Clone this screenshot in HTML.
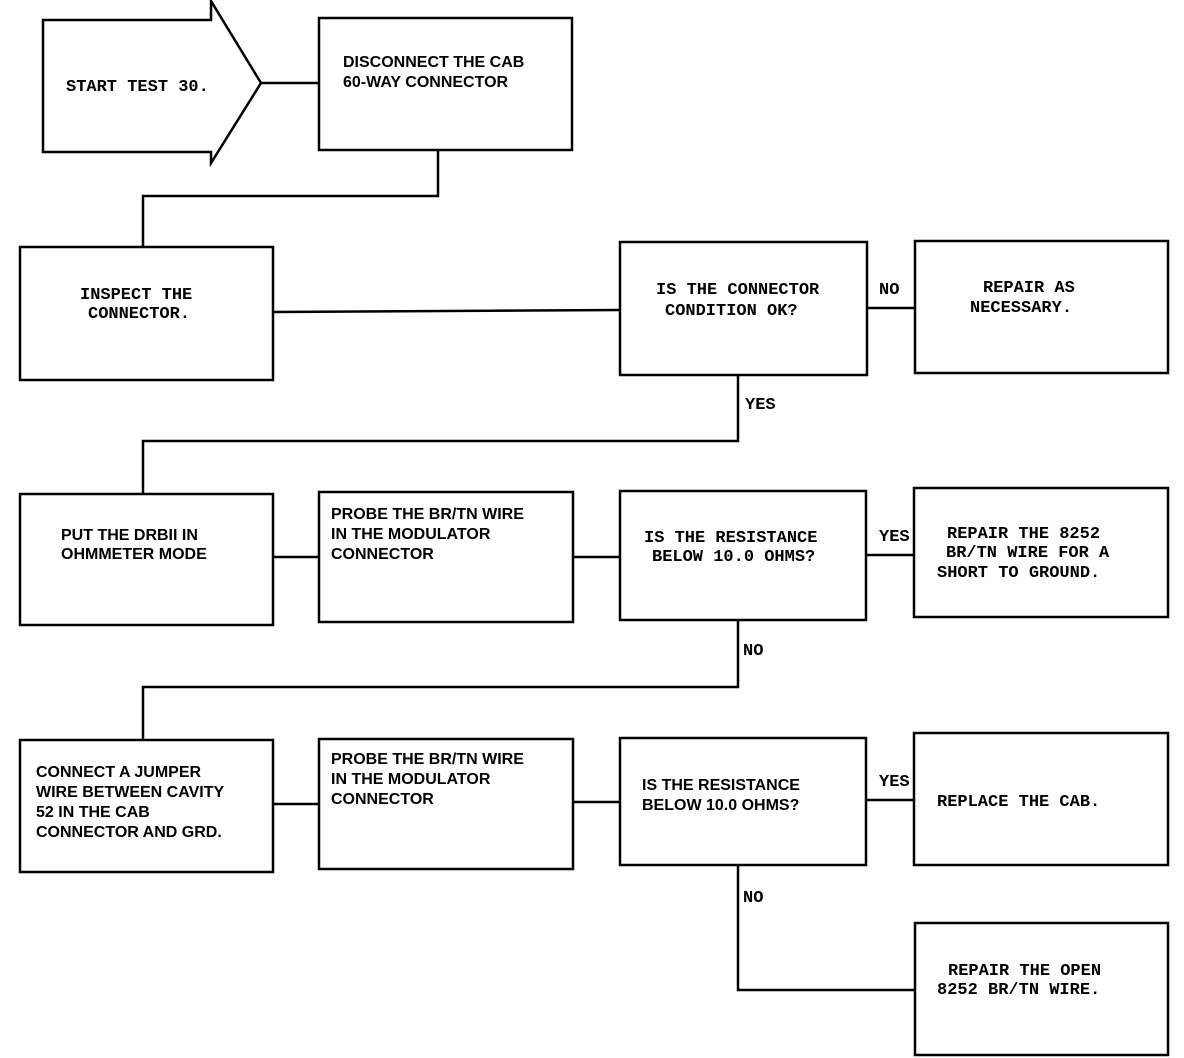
<!DOCTYPE html>
<html><head><meta charset="utf-8"><style>
html,body{margin:0;padding:0;background:#fff;}
svg{display:block}
.b{font-family:"Liberation Sans",sans-serif;font-weight:bold;font-size:16px;}
.m{font-family:"Liberation Mono",monospace;font-weight:bold;font-size:17px;}
</style></head><body>
<svg width="1184" height="1058" viewBox="0 0 1184 1058" xmlns="http://www.w3.org/2000/svg">
<g fill="none" stroke="#000" stroke-width="2.5">
<polygon points="43,20 211,20 211,1 261,83 211,163 211,152 43,152"/>
<rect x="319" y="18" width="253" height="132"/>
<rect x="20" y="247" width="253" height="133"/>
<rect x="620" y="242" width="247" height="133"/>
<rect x="915" y="241" width="253" height="132"/>
<rect x="20" y="494" width="253" height="131"/>
<rect x="319" y="492" width="254" height="130"/>
<rect x="620" y="491" width="246" height="129"/>
<rect x="914" y="488" width="254" height="129"/>
<rect x="20" y="740" width="253" height="132"/>
<rect x="319" y="739" width="254" height="130"/>
<rect x="620" y="738" width="246" height="127"/>
<rect x="914" y="733" width="254" height="132"/>
<rect x="915" y="923" width="253" height="132"/>
<polyline points="261,83 319,83"/>
<polyline points="438,150 438,196 143,196 143,247"/>
<polyline points="273,312 620,310"/>
<polyline points="867,308 915,308"/>
<polyline points="738,375 738,441 143,441 143,494"/>
<polyline points="273,557 319,557"/>
<polyline points="573,557 620,557"/>
<polyline points="866,555 914,555"/>
<polyline points="738,620 738,687 143,687 143,740"/>
<polyline points="273,804 319,804"/>
<polyline points="573,802 620,802"/>
<polyline points="866,800 914,800"/>
<polyline points="738,865 738,990 915,990"/>
</g>
<g fill="#000">
<text class="m" x="66" y="91">START TEST 30.</text>
<text class="b" x="343" y="67">DISCONNECT THE CAB</text>
<text class="b" x="343" y="87">60-WAY CONNECTOR</text>
<text class="m" x="80" y="299">INSPECT THE</text>
<text class="m" x="88" y="318">CONNECTOR.</text>
<text class="m" x="656" y="294">IS THE CONNECTOR</text>
<text class="m" x="665" y="315">CONDITION OK?</text>
<text class="m" x="879" y="294">NO</text>
<text class="m" x="983" y="292">REPAIR AS</text>
<text class="m" x="970" y="312">NECESSARY.</text>
<text class="m" x="745" y="409">YES</text>
<text class="b" x="61" y="540">PUT THE DRBII IN</text>
<text class="b" x="61" y="559">OHMMETER MODE</text>
<text class="b" x="331" y="519">PROBE THE BR/TN WIRE</text>
<text class="b" x="331" y="539">IN THE MODULATOR</text>
<text class="b" x="331" y="559">CONNECTOR</text>
<text class="m" x="644" y="542">IS THE RESISTANCE</text>
<text class="m" x="652" y="561">BELOW 10.0 OHMS?</text>
<text class="m" x="879" y="541">YES</text>
<text class="m" x="947" y="538">REPAIR THE 8252</text>
<text class="m" x="946" y="557">BR/TN WIRE FOR A</text>
<text class="m" x="937" y="577">SHORT TO GROUND.</text>
<text class="m" x="743" y="655">NO</text>
<text class="b" x="36" y="777">CONNECT A JUMPER</text>
<text class="b" x="36" y="797">WIRE BETWEEN CAVITY</text>
<text class="b" x="36" y="817">52 IN THE CAB</text>
<text class="b" x="36" y="837">CONNECTOR AND GRD.</text>
<text class="b" x="331" y="764">PROBE THE BR/TN WIRE</text>
<text class="b" x="331" y="784">IN THE MODULATOR</text>
<text class="b" x="331" y="804">CONNECTOR</text>
<text class="b" x="642" y="790">IS THE RESISTANCE</text>
<text class="b" x="642" y="810">BELOW 10.0 OHMS?</text>
<text class="m" x="879" y="786">YES</text>
<text class="m" x="937" y="806">REPLACE THE CAB.</text>
<text class="m" x="743" y="902">NO</text>
<text class="m" x="948" y="975">REPAIR THE OPEN</text>
<text class="m" x="937" y="994">8252 BR/TN WIRE.</text>
</g>
</svg>
</body></html>
